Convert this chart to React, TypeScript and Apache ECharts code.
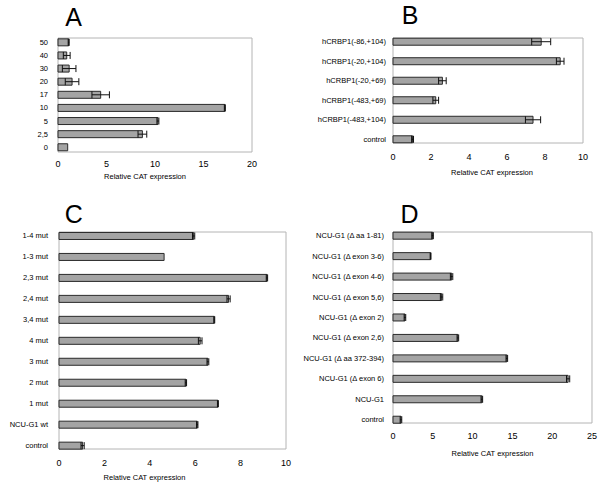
import React, { useEffect, useRef } from "react";
import * as echarts from "echarts";

// Panel A
const catsA = ["50", "40", "30", "20", "17", "10", "5", "2,5", "0"];
const valsA = [1.1, 0.9, 1.15, 1.45, 4.4, 17.2, 10.3, 8.7, 1.0];
const errsA = [0.05, 0.35, 0.7, 0.7, 0.9, 0.05, 0.1, 0.45, 0.0];
const ticksA = { min: 0, max: 20, interval: 5 };

// Panel B
const catsB = [
  "hCRBP1(-86,+104)",
  "hCRBP1(-20,+104)",
  "hCRBP1(-20,+69)",
  "hCRBP1(-483,+69)",
  "hCRBP1(-483,+104)",
  "control",
];
const valsB = [7.8, 8.8, 2.6, 2.25, 7.37, 1.03];
const errsB = [0.5, 0.2, 0.2, 0.15, 0.4, 0.05];
const ticksB = { min: 0, max: 10, interval: 2 };

// Panel C
const catsC = [
  "1-4 mut",
  "1-3 mut",
  "2,3 mut",
  "2,4 mut",
  "3,4 mut",
  "4 mut",
  "3 mut",
  "2 mut",
  "1 mut",
  "NCU-G1 wt",
  "control",
];
const valsC = [5.93, 4.63, 9.16, 7.47, 6.84, 6.22, 6.56, 5.59, 7.0, 6.09, 1.04];
const errsC = [0.05, 0.0, 0.03, 0.07, 0.02, 0.08, 0.04, 0.03, 0.02, 0.03, 0.07];
const ticksC = { min: 0, max: 10, interval: 2 };

// Panel D
const catsD = [
  "NCU-G1 (Δ aa 1-81)",
  "NCU-G1 (Δ exon 3-6)",
  "NCU-G1 (Δ exon 4-6)",
  "NCU-G1 (Δ exon 5,6)",
  "NCU-G1 (Δ exon 2)",
  "NCU-G1 (Δ exon 2,6)",
  "NCU-G1 (Δ aa 372-394)",
  "NCU-G1 (Δ exon 6)",
  "NCU-G1",
  "control",
];
const valsD = [4.97, 4.72, 7.36, 6.1, 1.5, 8.15, 14.3, 22.0, 11.16, 1.0];
const errsD = [0.1, 0.05, 0.15, 0.15, 0.1, 0.1, 0.1, 0.2, 0.1, 0.1];
const ticksD = { min: 0, max: 25, interval: 5 };

const panelLetters = ["A", "B", "C", "D"];
const xTitle = "Relative CAT expression";

const FONT = "'Liberation Sans', Arial, Helvetica, sans-serif";

const renderBar = (params: any, api: any) => {
  const v = api.value(0);
  const i = api.value(1);
  const e = api.value(2);
  const p0 = api.coord([0, i]);
  const p1 = api.coord([v, i]);
  const h = 7;
  const y = p0[1];
  const children: any[] = [
    {
      type: "rect",
      shape: { x: p0[0], y: y - h / 2, width: p1[0] - p0[0], height: h },
      style: { fill: "#a4a4a4", stroke: "#2a2a2a", lineWidth: 1 },
    },
  ];
  if (e > 0) {
    const pl = api.coord([v - e, i]);
    const pr = api.coord([v + e, i]);
    children.push(
      { type: "line", shape: { x1: pl[0], y1: y, x2: pr[0], y2: y }, style: { stroke: "#111", lineWidth: 1 } },
      { type: "line", shape: { x1: pl[0], y1: y - h / 2, x2: pl[0], y2: y + h / 2 }, style: { stroke: "#111", lineWidth: 1 } },
      { type: "line", shape: { x1: pr[0], y1: y - h / 2, x2: pr[0], y2: y + h / 2 }, style: { stroke: "#111", lineWidth: 1 } }
    );
  }
  return { type: "group", children };
};

export default function App() {
  const ref = useRef<HTMLDivElement>(null);
  useEffect(() => {
    if (!ref.current) return;
    const chart = echarts.init(ref.current, undefined, { renderer: "svg" });

    const panels = [
      { cats: catsA, vals: valsA, errs: errsA, ticks: ticksA, grid: { left: 58, top: 38, width: 194, height: 114 }, yMin: -0.33, yMax: 8.36, labelMargin: 10, xLabelMargin: 7, nameGap: 20, namePad: [0, 20, 0, 0] },
      { cats: catsB, vals: valsB, errs: errsB, ticks: ticksB, grid: { left: 393, top: 38, width: 190, height: 105 }, yMin: -0.19, yMax: 5.19, labelMargin: 7, xLabelMargin: 9, nameGap: 25, namePad: [0, 0, 0, 8] },
      { cats: catsC, vals: valsC, errs: errsC, ticks: ticksC, grid: { left: 59, top: 232, width: 227, height: 217 }, yMin: -0.19, yMax: 10.16, labelMargin: 11, xLabelMargin: 9, nameGap: 24, namePad: [0, 56, 0, 0] },
      { cats: catsD, vals: valsD, errs: errsD, ticks: ticksD, grid: { left: 393, top: 232, width: 199, height: 191 }, yMin: -0.18, yMax: 9.16, labelMargin: 9, xLabelMargin: 8, nameGap: 26, namePad: [0, 0, 0, 0] },
    ];

    const letterPos = [
      [73.5, 16.5],
      [410, 15],
      [73.7, 214],
      [409.5, 214],
    ];

    const option: any = {
      animation: false,
      textStyle: { fontFamily: FONT },
      grid: panels.map((p) => ({
        ...p.grid,
        show: true,
        borderColor: "#b4b4b4",
        borderWidth: 1,
        backgroundColor: "transparent",
        containLabel: false,
      })),
      xAxis: panels.map((p, k) => ({
        type: "value",
        gridIndex: k,
        min: p.ticks.min,
        max: p.ticks.max,
        interval: p.ticks.interval,
        axisLine: { show: false },
        axisTick: { show: false },
        splitLine: { show: false },
        axisLabel: { fontSize: 9, color: "#000", margin: p.xLabelMargin, fontFamily: FONT },
        name: xTitle,
        nameLocation: "middle",
        nameGap: p.nameGap,
        nameTextStyle: { fontSize: 7.5, color: "#000", fontFamily: FONT, padding: p.namePad },
      })),
      yAxis: panels.map((p, k) => ({
        type: "value",
        gridIndex: k,
        inverse: true,
        min: p.yMin,
        max: p.yMax,
        axisLine: { show: false },
        axisTick: { show: false },
        splitLine: { show: false },
        axisLabel: {
          customValues: p.cats.map((_, i) => i),
          formatter: (v: number) => p.cats[Math.round(v)] ?? "",
          fontSize: 7.5,
          color: "#000",
          margin: p.labelMargin,
          fontFamily: FONT,
        },
      })),
      series: panels.map((p, k) => ({
        type: "custom",
        xAxisIndex: k,
        yAxisIndex: k,
        renderItem: renderBar,
        encode: { x: 0, y: 1 },
        data: p.vals.map((v, i) => [v, i, p.errs[i]]),
        clip: false,
      })),
      graphic: panelLetters.map((L, k) => ({
        type: "text",
        x: letterPos[k][0],
        y: letterPos[k][1],
        style: {
          text: L,
          fontSize: 25,
          fontFamily: FONT,
          fill: "#000",
          align: "center",
          verticalAlign: "middle",
        },
      })),
    };

    chart.setOption(option);
    return () => chart.dispose();
  }, []);

  return (
    <div
      ref={ref}
      style={{ position: "absolute", left: 0, top: 0, width: 600, height: 487, background: "#fff" }}
    />
  );
}
